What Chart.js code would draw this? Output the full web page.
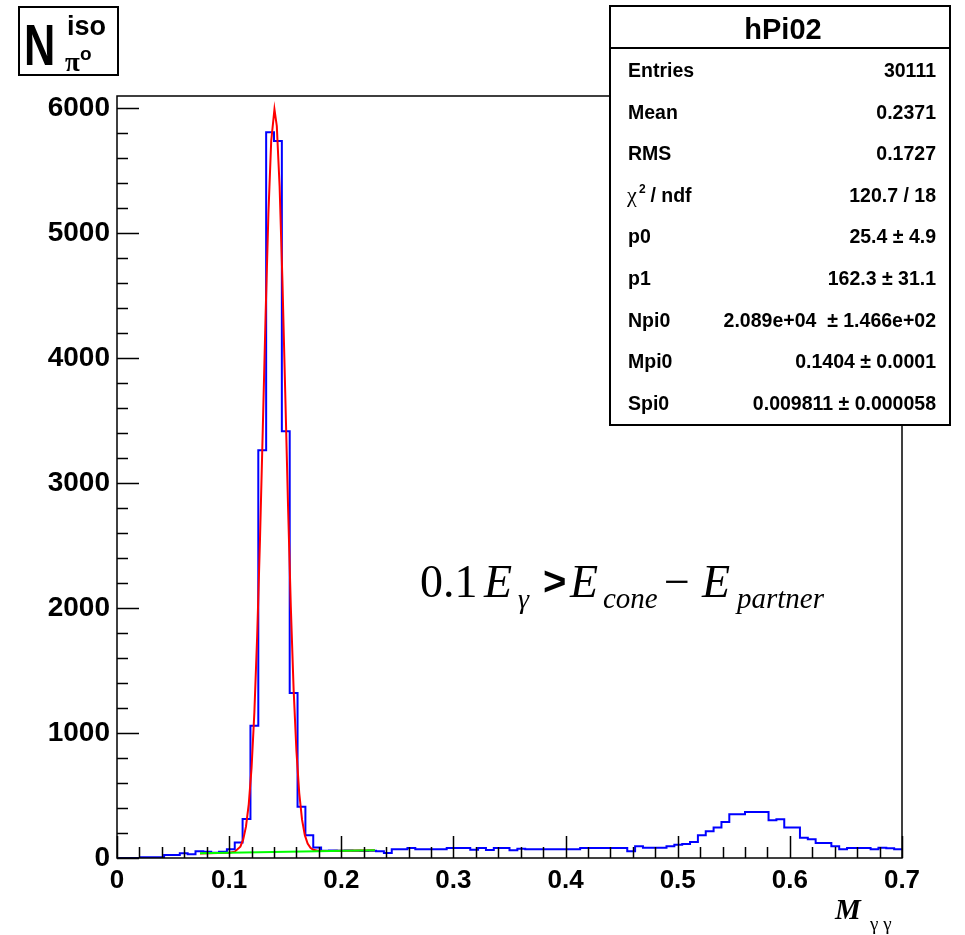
<!DOCTYPE html>
<html>
<head>
<meta charset="utf-8">
<script src="https://cdn.jsdelivr.net/npm/chart.js@4"></script>
<style>
  body { margin: 0; background: #fff; }
  canvas { display: block; }
</style>
</head>
<body>
<canvas id="hPi02" width="965" height="935"></canvas>
<script>
// histogram: 100 bins of 0.007 from 0 to 0.7 (counts)
const binWidth = 0.007;
const counts = [
  0, 0, 0, 6, 6, 6, 24, 24, 38, 30,
  54, 50, 42, 50, 70, 125, 313, 1059, 3264, 5810,
  5740, 3417, 1320, 410, 183, 85, 58, 60, 58, 60,
  58, 56, 58, 54, 40, 70, 70, 80, 70, 70,
  70, 70, 80, 80, 80, 66, 80, 64, 80, 80,
  62, 74, 70, 70, 70, 70, 70, 70, 70, 80,
  80, 80, 80, 80, 80, 54, 94, 83, 83, 83,
  94, 107, 112, 129, 182, 214, 244, 289, 351, 351,
  369, 369, 369, 302, 310, 244, 244, 163, 150, 121,
  121, 94, 70, 80, 80, 80, 70, 83, 78, 70
];

// fitted gaus + pol1 (red) and its background part (green)
const fitX = [0.074, 0.09, 0.1, 0.105, 0.11, 0.1125, 0.115, 0.1175, 0.12, 0.1225,
  0.125, 0.1275, 0.13, 0.1325, 0.135, 0.1375, 0.1404, 0.1425, 0.145, 0.1475,
  0.15, 0.1525, 0.155, 0.1575, 0.16, 0.1625, 0.165, 0.1675, 0.17, 0.1725,
  0.175, 0.18, 0.19, 0.23];
const fitY = [37, 40, 43, 51, 91, 147, 251, 432, 723, 1166,
  1777, 2547, 3433, 4343, 5155, 5739, 5994, 5860, 5377, 4624,
  3730, 2825, 2010, 1348, 856, 520, 307, 183, 115, 81,
  66, 56, 56, 63];
const bkgX = [0.074, 0.23];
const bkgY = [38, 63];

const xTicks = [0, 0.1, 0.2, 0.3, 0.4, 0.5, 0.6, 0.7];
const yTicks = [0, 1000, 2000, 3000, 4000, 5000, 6000];

const statNames = ['Entries', 'Mean', 'RMS', 'chi2', 'p0', 'p1', 'Npi0', 'Mpi0', 'Spi0'];
const statValues = ['30111', '0.2371', '0.1727', '120.7 / 18', '25.4 \u00b1 4.9', '162.3 \u00b1 31.1',
  '2.089e+04  \u00b1 1.466e+02', '0.1404 \u00b1 0.0001', '0.009811 \u00b1 0.000058'];

// bin low edges, plus the upper edge of the last bin
const histPts = counts.map((c, i) => ({ x: i * binWidth, y: c }));
histPts.push({ x: 0.7, y: counts[counts.length - 1] });

const SANS = '"Liberation Sans", Arial, sans-serif';
const SERIF = '"Liberation Serif", "Times New Roman", serif';

// ROOT-like decorations: frame, inner ticks, stats box, titles
const rootDecor = {
  id: 'rootDecor',
  afterDraw(chart) {
    const ctx = chart.ctx;
    const a = chart.chartArea;
    const xs = chart.scales.x, ys = chart.scales.y;
    ctx.save();
    ctx.strokeStyle = '#000';
    ctx.lineWidth = 1.5;
    ctx.strokeRect(a.left, a.top, a.right - a.left, a.bottom - a.top);

    // ticks pointing into the frame
    ctx.beginPath();
    for (let k = 0; k <= 35; k++) {
      const px = Math.round(xs.getPixelForValue(k * 0.02)) + 0.5;
      const len = k % 5 === 0 ? 22 : 11;
      ctx.moveTo(px, a.bottom);
      ctx.lineTo(px, a.bottom - len);
    }
    for (let k = 0; k <= 30; k++) {
      const py = Math.round(ys.getPixelForValue(k * 200)) + 0.5;
      const len = k % 5 === 0 ? 22 : 11;
      ctx.moveTo(a.left, py);
      ctx.lineTo(a.left + len, py);
    }
    ctx.stroke();

    // stats box
    ctx.fillStyle = '#fff';
    ctx.fillRect(610, 6, 340, 419);
    ctx.lineWidth = 2;
    ctx.strokeRect(610, 6, 340, 419);
    ctx.beginPath();
    ctx.moveTo(610, 48);
    ctx.lineTo(950, 48);
    ctx.stroke();
    ctx.fillStyle = '#000';
    ctx.textAlign = 'center';
    ctx.textBaseline = 'alphabetic';
    ctx.font = 'bold 29px ' + SANS;
    ctx.fillText('hPi02', 783, 39);

    statNames.forEach((n, i) => {
      const by = 77 + i * 41.6;
      ctx.textAlign = 'left';
      if (n === 'chi2') {
        ctx.font = '22px ' + SERIF;
        ctx.fillText('\u03c7', 627, by);
        ctx.font = 'bold 12px ' + SANS;
        ctx.fillText('2', 639, by - 9);
        ctx.font = 'bold 19.5px ' + SANS;
        ctx.fillText(' / ndf', 645, by);
      } else {
        ctx.font = 'bold 19.5px ' + SANS;
        ctx.fillText(n, 628, by);
      }
      ctx.textAlign = 'right';
      ctx.font = 'bold 19.5px ' + SANS;
      ctx.fillText(statValues[i], 936, by);
    });

    // y title box  N^{iso}_{pi0}
    ctx.fillStyle = '#fff';
    ctx.fillRect(19, 7, 99, 68);
    ctx.lineWidth = 2;
    ctx.strokeRect(19, 7, 99, 68);
    ctx.fillStyle = '#000';
    ctx.textAlign = 'left';
    ctx.save();
    ctx.translate(24, 65);
    ctx.scale(0.76, 1);
    ctx.font = 'bold 57px ' + SANS;
    ctx.fillText('N', 0, 0);
    ctx.restore();
    ctx.font = 'bold 27px ' + SANS;
    ctx.fillText('iso', 67, 35);
    ctx.font = 'bold 27px ' + SERIF;
    ctx.fillText('\u03c0', 65, 71);
    ctx.font = 'bold 19px ' + SANS;
    ctx.fillText('o', 80, 60);

    // annotation 0.1 E_gamma > E_cone - E_partner
    const base = 597, sub = 608;
    ctx.font = '46px ' + SERIF;
    ctx.fillText('0.1', 420, base);
    ctx.font = 'italic 46px ' + SERIF;
    ctx.fillText('E', 484, base);
    ctx.font = 'italic 28px ' + SERIF;
    ctx.fillText('\u03b3', 518, sub);
    ctx.font = 'bold 40px ' + SANS;
    ctx.fillText('>', 543, base - 2);
    ctx.font = 'italic 46px ' + SERIF;
    ctx.fillText('E', 570, base);
    ctx.font = 'italic 29px ' + SERIF;
    ctx.fillText('cone', 603, sub);
    ctx.font = '46px ' + SERIF;
    ctx.fillText('\u2212', 664, base);
    ctx.font = 'italic 46px ' + SERIF;
    ctx.fillText('E', 702, base);
    ctx.font = 'italic 29px ' + SERIF;
    ctx.fillText('partner', 737, sub);

    // x title M_{gamma gamma}
    ctx.font = 'bold italic 29px ' + SERIF;
    ctx.fillText('M', 835, 919);
    ctx.font = '19px ' + SERIF;
    ctx.fillText('\u03b3 \u03b3', 870, 930);
    ctx.restore();
  }
};

new Chart(document.getElementById('hPi02').getContext('2d'), {
  type: 'line',
  data: {
    datasets: [
      {
        label: 'background',
        data: bkgX.map((x, i) => ({ x: x, y: bkgY[i] })),
        borderColor: '#00ff00',
        borderWidth: 2,
        pointRadius: 0,
        fill: false
      },
      {
        label: 'fit',
        data: fitX.map((x, i) => ({ x: x, y: fitY[i] })),
        borderColor: '#ff0000',
        borderWidth: 2,
        pointRadius: 0,
        tension: 0,
        fill: false
      },
      {
        label: 'hPi02',
        data: histPts,
        borderColor: '#0000ff',
        borderWidth: 2,
        pointRadius: 0,
        stepped: 'before',
        fill: false
      }
    ]
  },
  options: {
    responsive: false,
    animation: false,
    devicePixelRatio: 1,
    layout: { padding: { left: 0, top: 96, right: 63, bottom: 0 } },
    plugins: {
      legend: { display: false },
      tooltip: { enabled: false }
    },
    scales: {
      x: {
        type: 'linear',
        min: 0,
        max: 0.7,
        grid: { display: false, drawTicks: false },
        border: { display: false },
        afterFit: s => { s.height = 77; },
        afterBuildTicks: s => { s.ticks = xTicks.map(v => ({ value: v })); },
        ticks: {
          padding: 7,
          maxRotation: 0,
          autoSkip: false,
          color: '#000',
          font: { family: SANS, weight: 'bold', size: 26 },
          callback: v => (v === 0 ? '0' : v.toFixed(1))
        }
      },
      y: {
        type: 'linear',
        min: 0,
        max: 6100,
        grid: { display: false, drawTicks: false },
        border: { display: false },
        afterFit: s => { s.width = 117; },
        afterBuildTicks: s => { s.ticks = yTicks.map(v => ({ value: v })); },
        ticks: {
          padding: 7,
          color: '#000',
          font: { family: SANS, weight: 'bold', size: 28 },
          callback: v => String(v)
        }
      }
    }
  },
  plugins: [rootDecor]
});
</script>
</body>
</html>
